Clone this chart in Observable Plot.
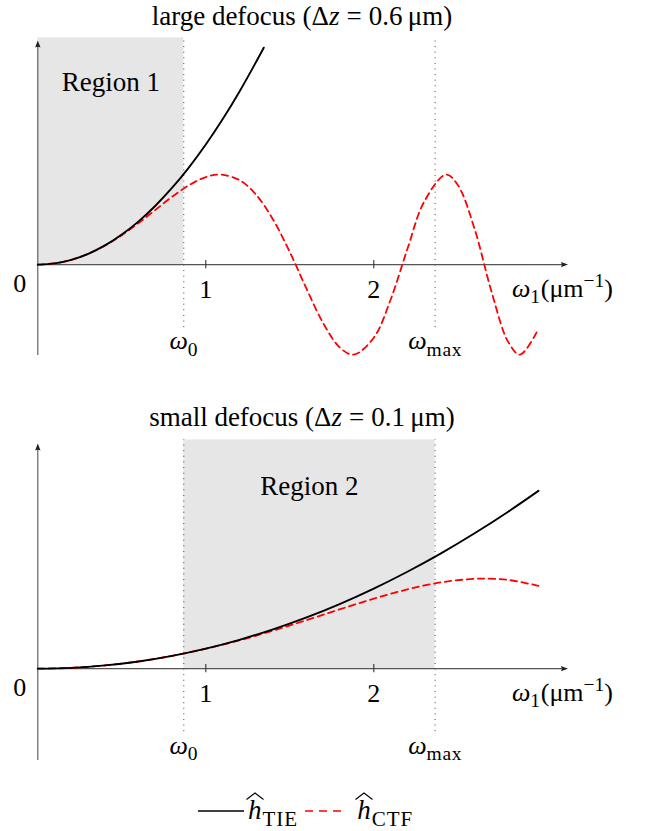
<!DOCTYPE html>
<html>
<head>
<meta charset="utf-8">
<script src="https://cdn.jsdelivr.net/npm/d3@7"></script>
<script src="https://cdn.jsdelivr.net/npm/@observablehq/plot@0.6"></script>
<style>
  body { margin: 0; background: #fff; }
  #root { position: relative; width: 645px; height: 831px; font-family: "Liberation Serif", "Times New Roman", serif; color: #000; }
  .title { position: absolute; left: 0; width: 604px; text-align: center; font-size: 27px; line-height: 30px; white-space: nowrap; }
  .eq { margin: 0 7px; }
  .panel { position: absolute; left: 0; }
  #legend { position: absolute; left: 198px; top: 795px; display: flex; align-items: center; font-size: 27px; line-height: normal; white-space: nowrap; }
  #legend > svg { display: block; }
  .hh { position: relative; display: inline-block; font-style: italic; }
  .hat { position: absolute; left: -2px; top: -3px; }
  .sub { font-size: 21px; letter-spacing: 1px; position: relative; top: 7px; margin-left: 1px; }
</style>
</head>
<body>
<div id="root">
  <div class="title" style="top:1px">large defocus (Δ<i>z</i><span class="eq">=</span>0.6&#8201;μm)</div>
  <div class="panel" id="p1" style="top:30px"></div>
  <div class="title" style="top:402px">small defocus (Δ<i>z</i><span class="eq">=</span>0.1&#8201;μm)</div>
  <div class="panel" id="p2" style="top:435px"></div>
  <div id="legend">
    <svg width="46" height="12"><line x1="0" x2="46" y1="6" y2="6" stroke="#000" stroke-width="1.3"/></svg>
    <span style="margin-left:4px"><span class="hh">h<svg class="hat" width="18" height="8"><polyline points="0.5,7.5 9,1 17.5,7.5" fill="none" stroke="#000" stroke-width="1.1"/></svg></span><span class="sub">TIE</span></span>
    <svg width="44" height="12" style="margin-left:7px"><line x1="0" x2="40" y1="6" y2="6" stroke="#ff0000" stroke-width="1.3" stroke-dasharray="8,6"/></svg>
    <span style="margin-left:8px"><span class="hh">h<svg class="hat" width="18" height="8"><polyline points="0.5,7.5 9,1 17.5,7.5" fill="none" stroke="#000" stroke-width="1.1"/></svg></span><span class="sub">CTF</span></span>
  </div>
</div>
<script>
// ---------- data ----------
// top panel: large defocus (Δz = 0.6 µm)
const wTopTIE = [0, 0.1, 0.2, 0.3, 0.4, 0.5, 0.6, 0.7, 0.8, 0.9, 1.0, 1.1, 1.2, 1.3, 1.345];
const hTopTIE = [0, 0.013, 0.053, 0.12, 0.213, 0.334, 0.48, 0.654, 0.854, 1.081, 1.334, 1.614, 1.921, 2.254, 2.41];
const wTopCTF = [0, 0.1, 0.2, 0.3, 0.4, 0.5, 0.6, 0.7, 0.8, 0.9, 1.0, 1.085, 1.2, 1.3, 1.4, 1.5, 1.6, 1.7, 1.8, 1.88, 2.0, 2.1, 2.2, 2.3, 2.43, 2.5, 2.6, 2.7, 2.8, 2.87, 2.97];
const hTopCTF = [0, 0.013, 0.053, 0.12, 0.212, 0.327, 0.462, 0.608, 0.754, 0.882, 0.972, 1.0, 0.939, 0.775, 0.502, 0.14, -0.27, -0.655, -0.925, -1.0, -0.812, -0.39, 0.173, 0.699, 1.0, 0.885, 0.396, -0.296, -0.859, -1.0, -0.75];
// bottom panel: small defocus (Δz = 0.1 µm)
const wBotTIE = [0, 0.2, 0.4, 0.6, 0.8, 1.0, 1.2, 1.4, 1.6, 1.8, 2.0, 2.2, 2.4, 2.6, 2.8, 2.98];
const hBotTIE = [0, 0.009, 0.036, 0.08, 0.142, 0.222, 0.32, 0.436, 0.569, 0.72, 0.889, 1.076, 1.28, 1.503, 1.743, 1.974];
const wBotCTF = [0, 0.2, 0.4, 0.6, 0.8, 1.0, 1.2, 1.4, 1.6, 1.8, 2.0, 2.2, 2.4, 2.6, 2.66, 2.8, 2.98];
const hBotCTF = [0, 0.009, 0.036, 0.08, 0.142, 0.221, 0.315, 0.422, 0.539, 0.66, 0.777, 0.88, 0.958, 0.998, 1.0, 0.985, 0.92];
// frequency markers
const markerW = [0.869, 2.365];
const markerLabels = ["*ω*_{0}", "*ω*_{max}"];
// axis ticks
const tickValues = [1, 2];
const tickLabels = ["1", "2"];
const originLabel = ["0"];
const xAxisLabel = ["*ω*_{1}(μm^{−1})"];
const regionLabels = ["Region 1", "Region 2"];
const xEnd = 3.156;

// ---------- helpers ----------
const FONT = "Liberation Serif, Times New Roman, serif";
const FS = 26;

// latex-like filled arrow tip (tip at origin, pointing up)
const arrowTip = {
  draw(ctx) {
    ctx.moveTo(0, 0);
    ctx.lineTo(2.7, 7);
    ctx.quadraticCurveTo(0, 5.4, -2.7, 7);
    ctx.closePath();
  }
};

function mathify(svg, fs) {
  svg.querySelectorAll("text").forEach(t => {
    const s = t.textContent;
    if (!/[*_^]/.test(s)) return;
    const parts = s.split(/(\*[^*]+\*|[_^]\{[^}]*\})/).filter(p => p);
    while (t.firstChild) t.removeChild(t.firstChild);
    let shift = 0;
    for (const p of parts) {
      const ts = document.createElementNS("http://www.w3.org/2000/svg", "tspan");
      let target = 0;
      if (p.startsWith("_{")) { ts.textContent = p.slice(2, -1); ts.setAttribute("font-size", fs * 0.75); ts.setAttribute("letter-spacing", "0.6"); target = fs * 0.25; }
      else if (p.startsWith("^{")) { ts.textContent = p.slice(2, -1); ts.setAttribute("font-size", fs * 0.75); target = -fs * 0.4; }
      else if (p.startsWith("*")) { ts.textContent = p.slice(1, -1); ts.setAttribute("font-style", "italic"); }
      else ts.textContent = p;
      if (target !== shift) { ts.setAttribute("dy", target - shift); shift = target; }
      t.appendChild(ts);
    }
  });
}

function panel({wTIE, hTIE, wCTF, hCTF, yDomain, marginTop, region, regionLabel, shadeTop}) {
  const tie = wTIE.map((w, i) => ({w, h: hTIE[i]}));
  const ctf = wCTF.map((w, i) => ({w, h: hCTF[i]}));
  const txt = {fontFamily: FONT, fontSize: FS, fill: "#000"};
  const svg = Plot.plot({
    width: 645, height: 340,
    marginLeft: 37.3, marginRight: 645 - 567.5, marginTop, marginBottom: 15,
    x: {domain: [0, xEnd], axis: null},
    y: {domain: yDomain, axis: null},
    style: {overflow: "visible", background: "transparent"},
    marks: [
      Plot.rect([region], {x1: d => d[0], x2: d => d[1], y1: () => 0, y2: () => shadeTop, fill: "#e6e6e6"}),
      Plot.ruleX(markerW, {x: d => d, y1: () => -0.7, y2: () => shadeTop, stroke: "#444", strokeWidth: 1, strokeDasharray: "1,4.6"}),
      Plot.ruleX([0], {x: d => d, y1: () => yDomain[0], y2: () => yDomain[1] - 0.04, stroke: "#555", strokeWidth: 1.1}),
      Plot.ruleY([0], {y: d => d, x1: () => 0, x2: () => xEnd - 0.03, stroke: "#555", strokeWidth: 1.1}),
      Plot.ruleX(tickValues, {x: d => d, y1: () => -0.045, y2: () => 0.045, stroke: "#333", strokeWidth: 1.1}),
      Plot.dot([0], {x: () => 0, y: () => yDomain[1], symbol: arrowTip, r: 3, fill: "#222", stroke: null}),
      Plot.dot([0], {x: () => xEnd, y: () => 0, symbol: arrowTip, r: 3, rotate: 90, fill: "#222", stroke: null}),
      Plot.line(ctf, {x: "w", y: "h", curve: "catmull-rom", stroke: "#ff0000", strokeWidth: 1.8, strokeDasharray: "6.5,4.5"}),
      Plot.line(tie, {x: "w", y: "h", curve: "catmull-rom", stroke: "#000", strokeWidth: 1.9}),
      Plot.text(originLabel, {...txt, x: () => 0, y: () => 0, text: d => d, dx: -18, dy: 19}),
      Plot.text(tickValues, {...txt, x: d => d, y: () => 0, text: (d, i) => tickLabels[i], dy: 25}),
      Plot.text(xAxisLabel, {...txt, x: () => xEnd, y: () => 0, text: d => d, textAnchor: "start", dx: -56, dy: 24}),
      Plot.text(markerW, {...txt, x: d => d, y: () => -0.85, text: (d, i) => markerLabels[i]}),
      Plot.text([regionLabel], {...txt, fontSize: 27, x: () => (region[0] + region[1]) / 2, y: () => 2.02, text: d => d})
    ]
  });
  mathify(svg, FS);
  return svg;
}

document.getElementById("p1").appendChild(panel({
  wTIE: wTopTIE, hTIE: hTopTIE, wCTF: wTopCTF, hCTF: hTopCTF,
  yDomain: [-1.01, 2.49], marginTop: 10,
  region: [0, markerW[0]], regionLabel: regionLabels[0], shadeTop: 2.52
}));
document.getElementById("p2").appendChild(panel({
  wTIE: wBotTIE, hTIE: hBotTIE, wCTF: wBotCTF, hCTF: hBotCTF,
  yDomain: [-1.02, 2.5], marginTop: 8,
  region: markerW, regionLabel: regionLabels[1], shadeTop: 2.54
}));
</script>
</body>
</html>
